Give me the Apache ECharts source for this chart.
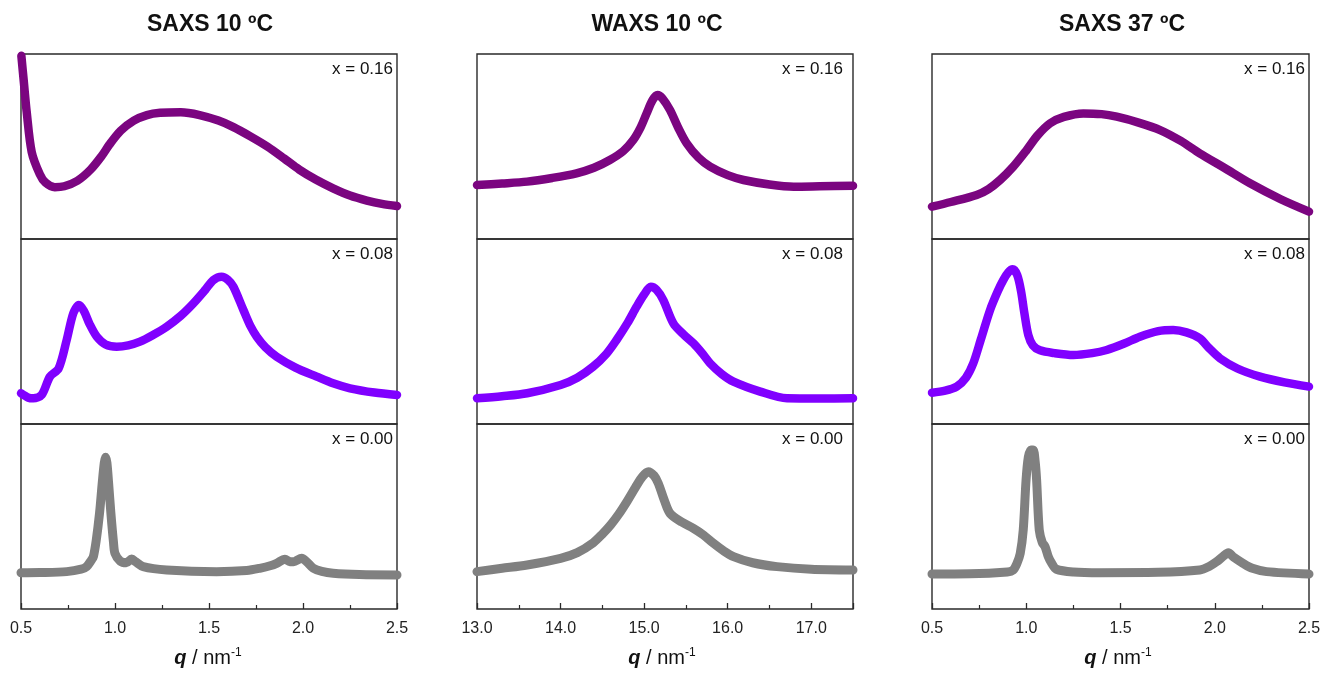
<!DOCTYPE html>
<html>
<head>
<meta charset="utf-8">
<script src="https://cdn.jsdelivr.net/npm/echarts@6/dist/echarts.min.js"></script>
<style>
html,body{margin:0;padding:0;background:#fff;}
#chart{width:1320px;height:673px;}
</style>
</head>
<body>
<div id="chart"></div>
<script>
// ---- Data (q, relative intensity 0..100 within each panel) ----
var panelTitles = ['SAXS 10 ºC', 'WAXS 10 ºC', 'SAXS 37 ºC'];
var rowLabels = ['x = 0.16', 'x = 0.08', 'x = 0.00'];
var xRanges = [[0.5, 2.5, 0.5], [13.0, 17.5, 1.0], [0.5, 2.5, 0.5]];

var saxs10_016 = [[0.502,99],[0.515,85],[0.53,69],[0.557,47],[0.60,35],[0.63,30.5],[0.68,28],[0.73,28.5],[0.80,31.5],[0.87,37.5],[0.93,45],[0.97,51],[1.03,58.5],[1.10,64],[1.17,67],[1.24,68.2],[1.35,68.5],[1.45,67],[1.55,64],[1.63,60.5],[1.72,55.5],[1.81,50],[1.90,43.5],[1.98,37.5],[2.07,32],[2.16,27.4],[2.25,23.5],[2.34,20.8],[2.42,19],[2.5,17.8]];
var saxs10_008 = [[0.5,16.6],[0.54,14.2],[0.566,13.9],[0.61,15.7],[0.654,25.6],[0.70,30],[0.743,45.4],[0.778,59.8],[0.808,64.3],[0.835,61],[0.865,54],[0.903,47.2],[0.95,43],[1.009,41.8],[1.07,42.5],[1.133,44.5],[1.2,48],[1.275,52.6],[1.35,58.5],[1.417,65.2],[1.48,72.5],[1.523,77.8],[1.567,79.6],[1.60,78],[1.63,74.2],[1.683,61.6],[1.72,53],[1.754,47.2],[1.80,41.5],[1.86,36.4],[1.96,30.5],[2.073,25.6],[2.16,22],[2.25,19.3],[2.38,17],[2.5,15.7]];
var saxs10_000 = [[0.5,19.6],[0.6,19.7],[0.743,20.2],[0.82,21.5],[0.849,22.9],[0.875,26.5],[0.885,28.3],[0.9,37],[0.918,52],[0.932,68],[0.943,79],[0.95,82],[0.957,79],[0.966,68],[0.978,52],[0.992,36],[1.0,30],[1.027,26],[1.06,25],[1.089,27],[1.11,25.5],[1.15,22.9],[1.275,21.1],[1.54,20.2],[1.70,20.8],[1.77,22],[1.83,23.5],[1.86,24.7],[1.904,26.9],[1.93,25.6],[1.95,25.6],[1.993,27.4],[2.02,25.5],[2.055,22],[2.1,20.3],[2.16,19.3],[2.3,18.6],[2.5,18.4]];

var waxs10_016 = [[13.0,29.2],[13.3,30],[13.6,31],[13.9,33],[14.19,35.5],[14.4,38.5],[14.59,42.7],[14.75,47.5],[14.87,53.5],[14.96,60.5],[15.03,67.9],[15.1,75],[15.16,77.8],[15.22,76],[15.31,69.7],[15.41,60],[15.51,51.7],[15.65,44],[15.79,39.1],[16.0,34.5],[16.19,31.9],[16.5,29.5],[16.79,28.3],[17.1,28.5],[17.5,28.8]];
var waxs10_008 = [[13.0,13.9],[13.3,15],[13.6,16.6],[14.0,21.1],[14.2,25],[14.39,31],[14.55,38],[14.67,45.4],[14.8,54.5],[14.91,63.4],[15.0,70],[15.08,74.2],[15.15,72.5],[15.23,67],[15.35,54.4],[15.47,48.5],[15.59,43.6],[15.69,38.5],[15.79,32.8],[15.93,27],[16.07,22.9],[16.39,17.5],[16.71,13.9],[17.1,13.8],[17.5,13.9]];
var waxs10_000 = [[13.0,20.2],[13.3,22],[13.6,23.8],[14.0,27.4],[14.2,30.5],[14.39,35.8],[14.5,40.5],[14.6,45.5],[14.7,51.5],[14.8,58.5],[14.9,66],[14.98,71.5],[15.05,74.2],[15.12,72],[15.17,67.9],[15.24,59],[15.31,51.7],[15.45,47],[15.59,43.6],[15.71,40],[15.83,35.5],[15.95,31.5],[16.07,28.3],[16.3,25],[16.59,22.9],[17.0,21.5],[17.5,21.1]];

var saxs37_016 = [[0.5,17.5],[0.6,20],[0.737,23.8],[0.8,27],[0.861,31.9],[0.93,39],[1.002,48.1],[1.06,56],[1.126,62.5],[1.2,66],[1.303,67.9],[1.4,67.5],[1.48,66.1],[1.6,62.8],[1.71,58.9],[1.82,53],[1.92,46.3],[2.05,38.5],[2.187,30.1],[2.35,21.5],[2.5,14.8]];
var saxs37_008 = [[0.5,16.9],[0.57,18],[0.631,20.2],[0.68,25],[0.719,32.8],[0.76,46],[0.808,61.6],[0.85,72],[0.878,77.8],[0.905,82],[0.928,83.6],[0.952,80.5],[0.972,72],[0.99,60],[1.011,48],[1.035,42.5],[1.073,39.8],[1.15,38.3],[1.25,37.3],[1.35,38.3],[1.427,40],[1.52,43.5],[1.603,47.2],[1.7,50.2],[1.78,50.8],[1.85,49.5],[1.92,46.3],[1.97,41],[2.028,35.5],[2.12,30],[2.24,25.6],[2.37,22.5],[2.5,20.2]];
var saxs37_000 = [[0.5,18.9],[0.7,19],[0.9,20],[0.93,21],[0.95,24.5],[0.968,30],[0.984,42.7],[0.999,69.7],[1.011,82],[1.025,86],[1.037,86],[1.047,80],[1.055,69.7],[1.069,42.7],[1.085,36],[1.1,33.7],[1.118,28],[1.135,24.7],[1.16,21.5],[1.25,20],[1.39,19.6],[1.7,19.8],[1.92,21.1],[1.97,23],[2.01,25.6],[2.045,28.5],[2.072,30.4],[2.1,28],[2.15,24.7],[2.2,22],[2.275,20.2],[2.5,18.9]];

var panelData = [
  [saxs10_016, saxs10_008, saxs10_000],
  [waxs10_016, waxs10_008, waxs10_000],
  [saxs37_016, saxs37_008, saxs37_000]
];
var rowColors = ['#7b0580', '#8000ff', '#808080'];
var rowWidths = [8.5, 8.5, 9];

// ---- Layout ----
var colLeft = [21, 477, 932];
var colWidth = [376, 376, 377];
var rowTop = [54, 239, 424];
var rowHeight = 185;
var titleCenters = [210, 657, 1122];
var nameCenters = [208, 662, 1118];
var FONT = '"Liberation Sans", Arial, Helvetica, sans-serif';

var grids = [], xAxes = [], yAxes = [], series = [], graphics = [];
for (var c = 0; c < 3; c++) {
  for (var r = 0; r < 3; r++) {
    var idx = grids.length;
    grids.push({
      left: colLeft[c], top: rowTop[r], width: colWidth[c], height: rowHeight,
      show: true, borderColor: '#2a2a2a', borderWidth: 1.4, backgroundColor: 'transparent',
      containLabel: false, outerBoundsMode: 'none'
    });
    var bottom = (r === 2);
    (function (c) {
      xAxes.push({
        type: 'value', gridIndex: idx,
        min: xRanges[c][0], max: xRanges[c][1], interval: xRanges[c][2],
        show: true,
        axisLine: { show: false },
        axisTick: { show: bottom, inside: true, length: 6, lineStyle: { color: '#2a2a2a', width: 1.3 } },
        minorTick: { show: bottom, splitNumber: 2, length: 4, lineStyle: { color: '#2a2a2a', width: 1.2 } },
        axisLabel: {
          show: bottom, fontSize: 16, color: '#222', margin: 12, fontFamily: FONT,
          showMaxLabel: c !== 1,
          formatter: function (v) { return v.toFixed(1); }
        },
        splitLine: { show: false }, minorSplitLine: { show: false }
      });
    })(c);
    yAxes.push({
      type: 'value', gridIndex: idx, min: 0, max: 100, show: false,
      splitLine: { show: false }
    });
    series.push({
      type: 'line', xAxisIndex: idx, yAxisIndex: idx,
      data: panelData[c][r], showSymbol: false, smooth: 0.3,
      lineStyle: { color: rowColors[r], width: rowWidths[r], cap: 'round', join: 'round' },
      clip: true, silent: true
    });
    graphics.push({
      type: 'text', right: 1320 - (colLeft[c] + colWidth[c] - (c === 1 ? 10 : 4)), top: rowTop[r] + 7,
      style: { text: rowLabels[r], font: '17px ' + FONT, fill: '#111' }
    });
  }
  graphics.push({
    type: 'text', x: titleCenters[c], y: 25,
    style: { text: panelTitles[c], font: 'bold 23px ' + FONT, fill: '#111', textAlign: 'center', textVerticalAlign: 'middle' }
  });
  graphics.push({
    type: 'text', x: nameCenters[c], y: 658,
    style: {
      text: '{q|q}{n| / nm}{s|-1}', textAlign: 'center', textVerticalAlign: 'middle',
      rich: {
        q: { font: 'italic bold 20px ' + FONT, fill: '#111' },
        n: { font: '20px ' + FONT, fill: '#111' },
        s: { font: '12px ' + FONT, fill: '#111', verticalAlign: 'top', padding: [0, 0, 10, 0] }
      }
    }
  });
}

var chart = echarts.init(document.getElementById('chart'), null, { renderer: 'canvas' });
chart.setOption({
  animation: false,
  backgroundColor: '#fff',
  grid: grids,
  xAxis: xAxes,
  yAxis: yAxes,
  series: series,
  graphic: graphics
});
</script>
</body>
</html>
